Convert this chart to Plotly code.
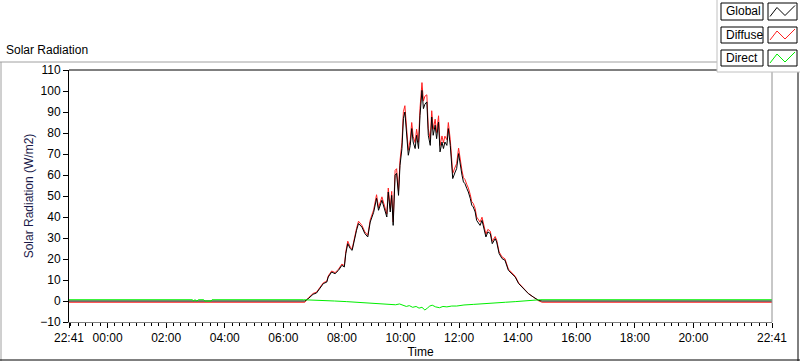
import plotly.graph_objects as go

# ---------------- data ----------------
DAY0 = "2023-06-14"   # day of the first 22:41
DAY1 = "2023-06-15"

# clock times for Global / Diffuse (first entry is 22:41 of the previous day)
clock_gd = [
    "22:41", "06:44", "06:51", "07:01", "07:08", "07:15", "07:22", "07:29", "07:32",
    "07:39", "07:46", "07:53", "08:00", "08:05", "08:08", "08:12", "08:17", "08:21",
    "08:25", "08:30", "08:34", "08:41", "08:47", "08:53", "08:58", "09:05", "09:11",
    "09:15", "09:22", "09:28", "09:32", "09:35", "09:39", "09:42", "09:45", "09:49",
    "09:52", "09:56", "09:59", "10:03", "10:06", "10:09", "10:13", "10:16", "10:20",
    "10:23", "10:26", "10:30", "10:33", "10:37", "10:40", "10:44", "10:47", "10:50",
    "10:54", "10:57", "11:01", "11:04", "11:07", "11:11", "11:14", "11:18", "11:21",
    "11:25", "11:28", "11:31", "11:35", "11:38", "11:42", "11:45", "11:47", "11:52",
    "11:55", "11:59", "12:02", "12:06", "12:09", "12:12", "12:16", "12:19", "12:23",
    "12:26", "12:29", "12:33", "12:36", "12:43", "12:47", "12:50", "12:55", "12:59",
    "13:04", "13:08", "13:14", "13:17", "13:22", "13:28", "13:34", "13:41", "13:48",
    "13:55", "14:02", "14:12", "14:22", "14:32", "14:43", "14:50", "22:41",
]
global_vals = [
    0.0, 0.0, 1.1, 3.2, 3.8, 5.9, 8.3, 9.0, 11.4,
    13.8, 13.0, 14.6, 17.0, 16.2, 22.6, 27.3, 25.0, 24.1,
    28.9, 33.7, 36.9, 35.2, 32.1, 30.5, 37.6, 42.2, 48.9,
    43.2, 48.0, 43.2, 40.0, 51.9, 42.4, 50.3, 36.0, 59.9,
    60.8, 50.3, 64.6, 72.6, 86.9, 90.0, 75.7, 69.4, 74.1,
    82.1, 75.7, 72.6, 78.9, 72.6, 88.4, 100.3, 91.6, 93.7,
    94.8, 78.9, 74.1, 87.6, 78.9, 83.7, 77.3, 85.2, 71.0,
    75.7, 72.6, 75.7, 74.1, 82.1, 74.1, 64.6, 58.3, 61.4,
    63.0, 70.2, 64.6, 59.9, 56.7, 55.9, 53.5, 51.9, 48.8,
    45.6, 44.8, 42.4, 38.4, 36.0, 38.4, 35.2, 30.5, 32.9,
    32.1, 27.3, 29.7, 28.1, 22.6, 20.2, 19.4, 14.6, 13.0,
    11.4, 8.3, 5.9, 3.5, 1.9, 0.3, 0.0, 0.0,
]
diffuse_vals = [
    -0.6, -0.6, 1.4, 3.6, 4.2, 6.3, 8.7, 9.4, 11.9,
    14.3, 13.5, 15.1, 17.6, 16.8, 23.4, 28.5, 25.7, 24.8,
    29.8, 34.6, 38.0, 36.0, 32.9, 31.3, 38.6, 43.4, 50.6,
    44.4, 49.6, 44.6, 41.4, 53.8, 44.0, 52.2, 37.6, 62.2,
    63.0, 52.2, 67.0, 75.4, 90.2, 93.0, 78.3, 71.8, 76.8,
    85.0, 78.4, 75.4, 81.8, 75.6, 91.8, 104.0, 95.2, 97.5,
    98.2, 82.0, 77.0, 90.6, 81.8, 86.6, 80.2, 88.2, 74.0,
    78.6, 75.4, 78.5, 76.8, 85.0, 76.8, 67.2, 60.8, 63.8,
    65.4, 72.8, 67.0, 62.0, 58.7, 57.9, 55.4, 53.8, 50.6,
    47.3, 46.5, 44.0, 40.0, 37.6, 39.9, 36.6, 31.8, 34.1,
    33.2, 28.4, 30.7, 29.0, 23.4, 21.0, 20.1, 15.2, 13.5,
    11.8, 8.6, 6.1, 3.6, 1.9, 0.1, -0.6, -0.6,
]

clock_direct = [
    "22:41", "02:54", "02:56", "02:59", "03:03", "03:06", "03:17", "03:19",
    "03:32", "03:34", "06:41", "07:20", "07:45", "08:10", "08:40", "09:10",
    "09:30", "09:50", "09:58", "10:05", "10:12", "10:18", "10:25", "10:32",
    "10:38", "10:44", "10:50", "10:55", "11:00", "11:05", "11:12", "11:20",
    "11:27", "11:35", "11:45", "11:55", "12:10", "12:30", "12:50", "13:15",
    "13:35", "13:55", "14:20", "14:46", "22:41",
]
direct_vals = [
    0.6, 0.6, 0.0, 0.6, 0.0, 0.6, 0.6, 0.0,
    0.0, 0.6, 0.6, 0.4, 0.0, -0.3, -0.8, -1.0,
    -1.5, -1.8, -1.4, -2.2, -2.6, -2.2, -3.0, -2.6,
    -3.4, -3.0, -4.3, -3.4, -2.4, -2.0, -2.8, -3.2,
    -2.6, -2.8, -2.4, -2.4, -1.9, -1.6, -1.4, -1.0,
    -0.6, -0.3, 0.3, 0.6, 0.6,
]

x_tick_clock = ["22:41", "00:00", "02:00", "04:00", "06:00", "08:00", "10:00",
                "12:00", "14:00", "16:00", "18:00", "20:00", "22:41"]
y_tickvals = list(range(-10, 111, 10))

series_names = ["Global", "Diffuse", "Direct"]
series_colors = ["#000000", "#ff2020", "#00ee00"]


def stamps(clocks):
    """First entry is on DAY0 (22:41), all later entries on DAY1."""
    return [f"{DAY0 if i == 0 else DAY1} {c}" for i, c in enumerate(clocks)]


time_gd = stamps(clock_gd)
time_direct = stamps(clock_direct)
x_tickvals = stamps(x_tick_clock)

# ---------------- figure ----------------
W, H = 800, 361
L, R, T, B = 69, 772, 70, 322   # plot area in pixels


def px(x):
    return (x - L) / (R - L)


def py(y):
    return (B - y) / (B - T)


FONT = "Liberation Sans"

fig = go.Figure()
fig.add_trace(go.Scatter(x=time_gd, y=diffuse_vals, mode="lines", name=series_names[1],
                         line=dict(color=series_colors[1], width=1)))
fig.add_trace(go.Scatter(x=time_gd, y=global_vals, mode="lines", name=series_names[0],
                         line=dict(color=series_colors[0], width=1)))
fig.add_trace(go.Scatter(x=time_direct, y=direct_vals, mode="lines", name=series_names[2],
                         line=dict(color=series_colors[2], width=1)))

shapes = []
# outer panel frame
shapes.append(dict(type="line", xref="paper", yref="paper", x0=px(0), x1=px(717), y0=py(62), y1=py(62),
                   line=dict(color="#a0a0a0", width=1)))
shapes.append(dict(type="line", xref="paper", yref="paper", x0=px(1), x1=px(1), y0=py(62), y1=py(361),
                   line=dict(color="#a0a0a0", width=1)))
shapes.append(dict(type="line", xref="paper", yref="paper", x0=px(0), x1=px(800), y0=py(360), y1=py(360),
                   line=dict(color="#000000", width=1)))
shapes.append(dict(type="line", xref="paper", yref="paper", x0=px(798), x1=px(798), y0=py(72), y1=py(361),
                   line=dict(color="#000000", width=1)))
# plot area borders (top black, right grey)
shapes.append(dict(type="line", xref="paper", yref="paper", x0=0, x1=1, y0=1, y1=1,
                   line=dict(color="#000000", width=1)))
shapes.append(dict(type="line", xref="paper", yref="paper", x0=1, x1=1, y0=0, y1=1,
                   line=dict(color="#909090", width=1)))
# legend panel
shapes.append(dict(type="rect", xref="paper", yref="paper", x0=px(717), x1=px(801), y0=py(72), y1=py(-1),
                   line=dict(color="#c0c0c0", width=1), fillcolor="white"))

annotations = [
    dict(text="Solar Radiation", xref="paper", yref="paper", x=px(4), y=py(50),
         xanchor="left", yanchor="middle", showarrow=False,
         font=dict(family=FONT, size=12, color="black")),
]

rows = [(3, 20), (27, 43), (50, 66)]
for (y0, y1), name, col in zip(rows, series_names, series_colors):
    shapes.append(dict(type="rect", xref="paper", yref="paper", x0=px(721), x1=px(763),
                       y0=py(y1), y1=py(y0), line=dict(color="black", width=1), fillcolor="white"))
    shapes.append(dict(type="rect", xref="paper", yref="paper", x0=px(768), x1=px(797),
                       y0=py(y1), y1=py(y0), line=dict(color="black", width=1), fillcolor="white"))
    ym = (y0 + y1) / 2
    zz = [(770, ym + 5), (777, ym - 4), (785, ym + 4), (795, ym - 6)]
    path = "M " + " L ".join(f"{px(a)},{py(b)}" for a, b in zz)
    shapes.append(dict(type="path", xref="paper", yref="paper", path=path,
                       line=dict(color=col, width=1)))
    annotations.append(dict(text=name, xref="paper", yref="paper", x=px(724), y=py(ym),
                            xanchor="left", yanchor="middle", showarrow=False,
                            font=dict(family=FONT, size=12, color="black")))

fig.update_layout(
    width=W, height=H,
    margin=dict(l=L, r=W - R, t=T, b=H - B, pad=0, autoexpand=False),
    paper_bgcolor="white", plot_bgcolor="white",
    showlegend=False,
    font=dict(family=FONT, size=12, color="black"),
    shapes=shapes,
    annotations=annotations,
    xaxis=dict(
        type="date", automargin=False,
        range=[x_tickvals[0], x_tickvals[-1]],
        tickmode="array", tickvals=x_tickvals, ticktext=x_tick_clock,
        ticks="outside", ticklen=5, tickcolor="black",
        minor=dict(ticks="outside", ticklen=3, tickcolor="black",
                   tickmode="linear", tick0=f"{DAY0} 22:45", dtick=15 * 60 * 1000,
                   showgrid=False),
        showgrid=False, zeroline=False,
        showline=True, linecolor="#808080", linewidth=1,
        tickfont=dict(family=FONT, size=12, color="black"),
        title=dict(text="Time", standoff=2, font=dict(family=FONT, size=12, color="black")),
    ),
    yaxis=dict(
        range=[-10, 110], automargin=False,
        tickmode="array", tickvals=y_tickvals,
        ticks="outside", ticklen=5, tickcolor="black",
        showgrid=False, zeroline=False,
        showline=True, linecolor="black", linewidth=1,
        tickfont=dict(family=FONT, size=12, color="black"),
        title=dict(text="Solar Radiation (W/m2)", standoff=4,
                   font=dict(family=FONT, size=12, color="#1a1a4a")),
    ),
)

fig.write_html("out.html", config={"displayModeBar": False},
               post_script="document.body.style.margin='0';document.body.style.overflow='hidden';")
